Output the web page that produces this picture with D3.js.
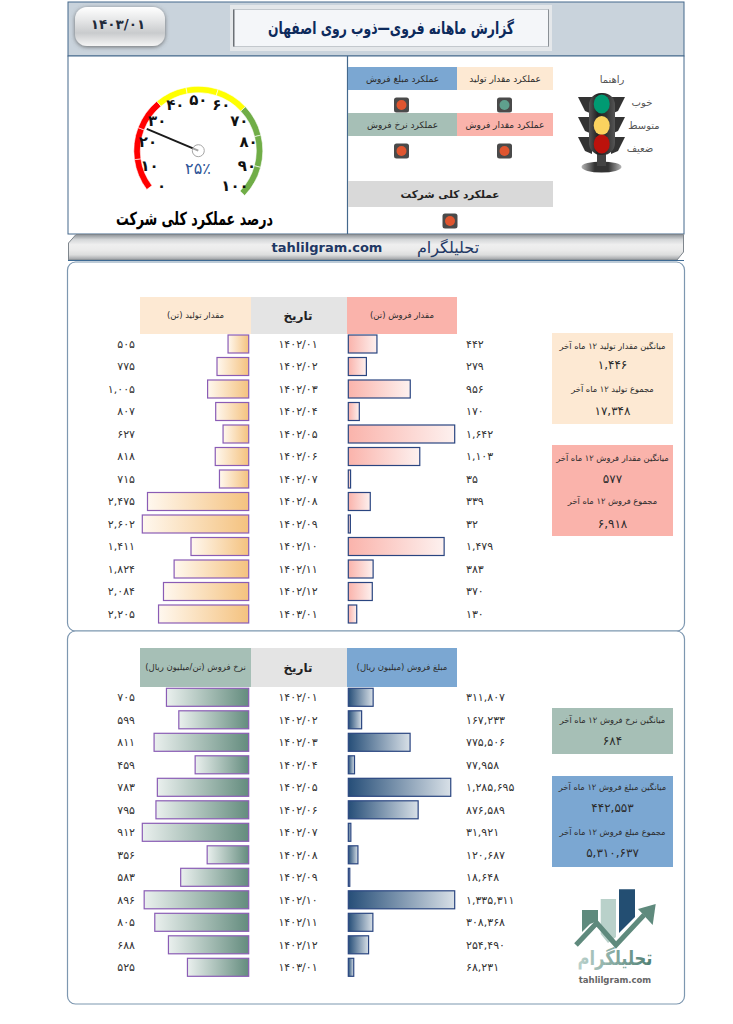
<!DOCTYPE html>
<html>
<head>
<meta charset="utf-8">
<script src="https://cdn.jsdelivr.net/npm/d3@7/dist/d3.min.js"></script>
<style>
body { margin: 0; background: #fff; }
text { font-family: "DejaVu Sans", sans-serif; }
</style>
</head>
<body>
<div id="chart-area"></div>
<script>
var dates = ["1402/01","1402/02","1402/03","1402/04","1402/05","1402/06","1402/07","1402/08","1402/09","1402/10","1402/11","1402/12","1403/01"];
var production = [505,775,1005,807,627,818,715,2475,2602,1411,1824,2084,2205];
var sales = [442,279,956,170,1642,1103,35,339,32,1479,383,370,130];
var saleRate = [705,599,811,459,783,795,912,356,583,896,805,688,525];
var saleAmount = [311807,167233,775506,77958,1285695,876589,31921,120687,18648,1335311,308368,254490,68231];
var gaugeTicks = [0,10,20,30,40,50,60,70,80,90,100];
var gaugeColors = ["#ff0000","#ff0000","#ff0000","#ffff00","#ffff00","#ffff00","#70ad47","#70ad47","#70ad47"];
var gaugeValue = 25;
var kpiBoxes = [
    {label: "عملکرد مبلغ فروش", x: 348, y: 67, w: 109, h: 23, fill: "#7ba7d2", light: "#e0552f"},
    {label: "عملکرد مقدار تولید", x: 457, y: 67, w: 96, h: 23, fill: "#fde9d3", light: "#5fa08e"},
    {label: "عملکرد  نرخ فروش", x: 348, y: 113, w: 109, h: 23, fill: "#a6bfb6", light: "#e0552f"},
    {label: "عملکرد مقدار فروش", x: 457, y: 113, w: 96, h: 23, fill: "#fab3ab", light: "#e0552f"}
];
var summaryProd = ["میانگین مقدار تولید ۱۲ ماه آخر", 1446, "مجموع تولید ۱۲ ماه آخر", 17348];
var summarySales = ["میانگین مقدار فروش ۱۲ ماه آخر", 577, "مجموع فروش ۱۲ ماه آخر", 6918];
var summaryRate = ["میانگین نرخ فروش ۱۲ ماه آخر", 684];
var summaryAmount = ["میانگین مبلغ فروش ۱۲ ماه آخر", 442553, "مجموع مبلغ فروش ۱۲ ماه آخر", 5310637];

var svg = d3.select("#chart-area").append("svg").attr("width", 733).attr("height", 1024);
var defs = svg.append("defs");

function fa(v) {
    var s = typeof v === "number" ? d3.format(",")(v) : v;
    return s.replace(/[0-9]/g, function(c) { return "۰۱۲۳۴۵۶۷۸۹"[+c]; });
}

function gradient(id, stops, vertical) {
    var g = defs.append("linearGradient").attr("id", id)
        .attr("x1", "0%").attr("y1", "0%")
        .attr("x2", vertical ? "0%" : "100%")
        .attr("y2", vertical ? "100%" : "0%");
    stops.forEach(function(s, i) {
        g.append("stop").attr("offset", (i / (stops.length - 1) * 100) + "%").attr("stop-color", s);
    });
}
gradient("gProd", ["#fff8ef", "#f4c27f"]);
gradient("gSales", ["#fab3ab", "#fdf1ef"]);
gradient("gRate", ["#eaf0ee", "#648c7e"]);
gradient("gAmount", ["#264e78", "#d8e0e7"]);
gradient("gLogo", ["#bcd2cc", "#4f7f73"]);
gradient("gBase", ["#b5b5b5", "#333", "#333", "#b5b5b5"]);
gradient("gBody", ["#555", "#222", "#333", "#555"]);
gradient("gBand", ["#8d9297", "#d5d7d9", "#efefef", "#ebebeb", "#dcdddd", "#9a9da1"], true);
gradient("gButton", ["#ffffff", "#e6e7e8", "#c9cbcd", "#f5f5f5"], true);
var shadow = defs.append("filter").attr("id", "soft").attr("x", "-20%").attr("y", "-20%").attr("width", "140%").attr("height", "140%");
shadow.append("feDropShadow").attr("dx", 0).attr("dy", 1).attr("stdDeviation", 2).attr("flood-color", "#555").attr("flood-opacity", 0.8);

function label(g, str, x, y, size, color, weight, fitWidth) {
    var t = g.append("text").text(str)
        .attr("x", x).attr("y", y)
        .attr("dy", "0.35em")
        .attr("font-size", size)
        .attr("fill", color)
        .attr("font-weight", weight || "normal")
        .attr("text-anchor", "middle");
    // the report's font is narrower than DejaVu, squeeze to the same width
    if (fitWidth) t.attr("textLength", fitWidth).attr("lengthAdjust", "spacingAndGlyphs");
    return t;
}

// top header
svg.append("rect").attr("x", 68).attr("y", 2).attr("width", 616).attr("height", 54)
    .attr("fill", "#c9d3dc").attr("stroke", "#44688c").attr("stroke-width", 1);
svg.append("rect").attr("x", 75).attr("y", 7).attr("width", 90).attr("height", 39).attr("rx", 12)
    .attr("fill", "url(#gButton)").attr("filter", "url(#soft)");
label(svg, fa("1403/01"), 118, 24, 13.5, "#1f2a3a", "bold");
svg.append("rect").attr("x", 230).attr("y", 5).attr("width", 322).attr("height", 46).attr("fill", "#e4e7ea");
svg.append("rect").attr("x", 233.5).attr("y", 9.5).attr("width", 315).attr("height", 37)
    .attr("fill", "#f4f6f9").attr("stroke", "#c3c8cd").attr("stroke-width", 1);
svg.append("line").attr("x1", 233.8).attr("x2", 233.8).attr("y1", 9.5).attr("y2", 46.5).attr("stroke", "#5c6166").attr("stroke-width", 1.3);
svg.append("line").attr("x1", 548.5).attr("x2", 548.5).attr("y1", 9.5).attr("y2", 46.5).attr("stroke", "#8a9096").attr("stroke-width", 1);
label(svg, "گزارش ماهانه فروی—ذوب روی اصفهان", 391, 28, 17, "#0d2a5c", "bold", 246);

// middle panel
svg.append("rect").attr("x", 68).attr("y", 56).attr("width", 616).attr("height", 178)
    .attr("fill", "#fff").attr("stroke", "#44688c");
svg.append("line").attr("x1", 347.5).attr("x2", 347.5).attr("y1", 56).attr("y2", 234)
    .attr("stroke", "#44688c").attr("stroke-width", 1.2);

// gauge
var cx = 198.3, cy = 150.7;
var gauge = svg.append("g").attr("transform", "translate(" + cx + "," + cy + ")");
var toRad = Math.PI / 180;
var segScale = d3.scaleLinear().domain([0, gaugeColors.length]).range([-127 * toRad, 134 * toRad]);
var arc = d3.arc().innerRadius(58).outerRadius(64.5);
gauge.selectAll("path.seg").data(gaugeColors).enter().append("path")
    .attr("class", "seg")
    .attr("d", function(d, i) { return arc({startAngle: segScale(i), endAngle: segScale(i + 1)}); })
    .attr("fill", function(d) { return d; })
    .attr("stroke", "#fff").attr("stroke-width", 0.6);
var angle = d3.scaleLinear().domain([0, 100]).range([-134 * toRad, 134 * toRad]);
gauge.selectAll("text.tick").data(gaugeTicks).enter().append("text")
    .attr("class", "tick")
    .attr("x", function(d) { return 51 * Math.sin(angle(d)); })
    .attr("y", function(d) { return -51 * Math.cos(angle(d)); })
    .attr("dy", "0.35em")
    .attr("text-anchor", "middle")
    .attr("font-size", 15)
    .attr("font-weight", "bold")
    .attr("fill", "#111")
    .text(function(d) { return fa(d); });
gauge.append("line")
    .attr("x1", 0).attr("y1", 0)
    .attr("x2", 56 * Math.sin(angle(gaugeValue)))
    .attr("y2", -56 * Math.cos(angle(gaugeValue)))
    .attr("stroke", "#1a1a1a").attr("stroke-width", 2);
gauge.append("circle").attr("r", 6).attr("fill", "#fff").attr("fill-opacity", 0.6).attr("stroke", "#a6a6a6").attr("stroke-width", 1);
label(svg, fa(gaugeValue + "") + "٪", 198, 168, 16, "#2f5597", "normal");
label(svg, "درصد عملکرد کلی شرکت", 194.5, 219, 18, "#000", "bold", 157);

// kpi boxes + lights
function lamp(x, y, color) {
    svg.append("rect").attr("x", x - 7.5).attr("y", y - 7.5).attr("width", 15).attr("height", 15).attr("rx", 2.5)
        .attr("fill", "#4a4a4a");
    svg.append("circle").attr("cx", x).attr("cy", y).attr("r", 5).attr("fill", color);
}
kpiBoxes.forEach(function(b) {
    svg.append("rect").attr("x", b.x).attr("y", b.y).attr("width", b.w).attr("height", b.h).attr("fill", b.fill);
    label(svg, b.label, b.x + b.w / 2, b.y + b.h / 2 + 0.5, 9, "#2b2b2b", "normal");
    lamp(b.x + (b.w === 109 ? 53.5 : 47.5), b.y + b.h + 15, b.light);
});
svg.append("rect").attr("x", 348).attr("y", 181).attr("width", 205).attr("height", 26).attr("fill", "#d9d9d9");
label(svg, "عملکرد کلی شرکت", 450, 194, 10.5, "#222", "bold");
lamp(450, 221, "#e0552f");

// traffic light
var tl = svg.append("g");
tl.append("ellipse").attr("cx", 601.5).attr("cy", 167).attr("rx", 20).attr("ry", 5.5).attr("fill", "url(#gBase)");
tl.append("rect").attr("x", 597).attr("y", 148).attr("width", 9).attr("height", 18).attr("fill", "#444");
[97, 117, 137].forEach(function(y) {
    tl.append("path").attr("d", "M578 " + y + " L592 " + y + " L592 " + (y + 17) + " L585 " + (y + 14) + " Z").attr("fill", "#333");
    tl.append("path").attr("d", "M625 " + y + " L611 " + y + " L611 " + (y + 17) + " L618 " + (y + 14) + " Z").attr("fill", "#333");
});
tl.append("rect").attr("x", 589).attr("y", 93).attr("width", 26).attr("height", 62).attr("rx", 12).attr("fill", "url(#gBody)");
tl.append("ellipse").attr("cx", 601.7).attr("cy", 104).attr("rx", 8).attr("ry", 9.5).attr("fill", "#009a72");
tl.append("ellipse").attr("cx", 601.7).attr("cy", 125.5).attr("rx", 8).attr("ry", 9.5).attr("fill", "#fbd35f");
tl.append("ellipse").attr("cx", 601.7).attr("cy", 144).attr("rx", 8).attr("ry", 9.5).attr("fill", "#bc120c");
label(svg, "راهنما", 612, 79, 10, "#555");
label(svg, "خوب", 642, 102, 10, "#555");
label(svg, "متوسط", 644, 125, 10, "#555");
label(svg, "ضعیف", 640, 148, 10, "#555");

// grey band under the header
svg.append("path").attr("d", "M68.5 243 L76 234.5 L683.5 234.5 L683.5 252 L677 260 L68.5 260 Z")
    .attr("fill", "url(#gBand)").attr("stroke", "#7f868d").attr("stroke-width", 1);
svg.append("line").attr("x1", 68).attr("x2", 684).attr("y1", 260.5).attr("y2", 260.5)
    .attr("stroke", "#3d6a94").attr("stroke-width", 1.2);
label(svg, "tahlilgram.com", 327, 247, 13, "#1f3864", "bold");
label(svg, "تحلیلگرام", 448, 247, 16, "#1f3864");

// the two table sections
function section(opt) {
    svg.append("rect").attr("x", 67.5).attr("y", opt.top).attr("width", 617).attr("height", opt.height).attr("rx", 8)
        .attr("fill", "#fff").attr("stroke", "#7d97b0").attr("stroke-width", 1.2);

    svg.append("rect").attr("x", 140).attr("y", opt.headY).attr("width", 111).attr("height", opt.headH).attr("fill", opt.leftFill);
    svg.append("rect").attr("x", 251).attr("y", opt.headY).attr("width", 96).attr("height", opt.headH).attr("fill", "#e4e4e4");
    svg.append("rect").attr("x", 347).attr("y", opt.headY).attr("width", 110).attr("height", opt.headH).attr("fill", opt.rightFill);
    var hy = opt.headY + opt.headH / 2;
    label(svg, opt.leftTitle, 195.5, hy, 8.5, "#2b2b2b");
    label(svg, "تاریخ", 298, hy, 12, "#222", "bold");
    label(svg, opt.rightTitle, 402, hy, 8.5, "#2b2b2b");

    var y = d3.scaleBand().domain(dates).range([opt.rowY, opt.rowY + 288]).paddingInner(0.2).paddingOuter(0);
    var xl = d3.scaleLinear().domain([0, d3.max(opt.left)]).range([248.7, 142.3]);
    var xr = d3.scaleLinear().domain([0, d3.max(opt.right)]).range([348.3, 454.7]);

    var g = svg.append("g");
    g.selectAll("rect.l").data(opt.left).enter().append("rect").attr("class", "l")
        .attr("x", function(d) { return xl(d); })
        .attr("y", function(d, i) { return y(dates[i]); })
        .attr("width", function(d) { return xl(0) - xl(d); })
        .attr("height", y.bandwidth())
        .attr("fill", "url(#" + opt.leftGrad + ")")
        .attr("stroke", "#8a5cb5").attr("stroke-width", 1.2);
    g.selectAll("rect.r").data(opt.right).enter().append("rect").attr("class", "r")
        .attr("x", xr(0))
        .attr("y", function(d, i) { return y(dates[i]); })
        .attr("width", function(d) { return xr(d) - xr(0); })
        .attr("height", y.bandwidth())
        .attr("fill", "url(#" + opt.rightGrad + ")")
        .attr("stroke", "#2a4580").attr("stroke-width", 1.2);

    var mid = y.bandwidth() / 2;
    g.selectAll("text.lv").data(opt.left).enter().append("text").attr("class", "lv")
        .attr("x", 135).attr("y", function(d, i) { return y(dates[i]) + mid; })
        .attr("dy", "0.35em").attr("text-anchor", "end")
        .attr("font-size", 11).attr("fill", "#333")
        .text(function(d) { return fa(d); });
    g.selectAll("text.dt").data(dates).enter().append("text").attr("class", "dt")
        .attr("x", 298).attr("y", function(d) { return y(d) + mid; })
        .attr("dy", "0.35em").attr("text-anchor", "middle")
        .attr("font-size", 11).attr("letter-spacing", 0.3).attr("fill", "#333")
        .text(function(d) { return fa(d); });
    g.selectAll("text.rv").data(opt.right).enter().append("text").attr("class", "rv")
        .attr("x", 466).attr("y", function(d, i) { return y(dates[i]) + mid; })
        .attr("dy", "0.35em").attr("text-anchor", "start")
        .attr("font-size", 11).attr("fill", "#333")
        .text(function(d) { return fa(d); });
}

function summaryBox(lines, top, height, fill, ys) {
    svg.append("rect").attr("x", 552).attr("y", top).attr("width", 121).attr("height", height).attr("fill", fill);
    lines.forEach(function(t, i) {
        var isNum = typeof t === "number";
        label(svg, fa(t), 612.5, ys[i], isNum ? 12 : 8.3, "#2b2b2b");
    });
}

section({
    top: 262, height: 369, headY: 297, headH: 37, rowY: 335,
    left: production, right: sales,
    leftFill: "#fde9d3", rightFill: "#fab3ab",
    leftGrad: "gProd", rightGrad: "gSales",
    leftTitle: "مقدار تولید (تن)", rightTitle: "مقدار فروش (تن)"
});
section({
    top: 631, height: 373, headY: 648, headH: 39, rowY: 688.3,
    left: saleRate, right: saleAmount,
    leftFill: "#a6bfb6", rightFill: "#7ba7d2",
    leftGrad: "gRate", rightGrad: "gAmount",
    leftTitle: "نرخ فروش (تن/میلیون ریال)", rightTitle: "مبلغ فروش (میلیون ریال)"
});

summaryBox(summaryProd, 333, 91, "#fde9d3", [346, 365, 389, 411]);
summaryBox(summarySales, 445, 91, "#fab3ab", [458, 479, 501, 524]);
summaryBox(summaryRate, 708, 46, "#a6bfb6", [720, 741]);
summaryBox(summaryAmount, 776, 91, "#7ba7d2", [787, 808, 832, 853]);

// logo
var logo = svg.append("g");
logo.append("path").attr("d", "M582 910 H598 V921 L590 924 L582 932 Z").attr("fill", "#5f8a7d");
logo.append("path").attr("d", "M600.7 899 H616 V937 L608 943 L600.7 934 Z").attr("fill", "#b9d1ca");
logo.append("path").attr("d", "M619 889.3 H635 V917 L619 933 Z").attr("fill", "#234e72");
logo.append("path").attr("d", "M576 945 L596.7 923 L616 945 L644 915")
    .attr("fill", "none").attr("stroke", "#5f8a7d").attr("stroke-width", 5);
logo.append("path").attr("d", "M655.7 904 L652.7 925 L638 909 Z").attr("fill", "#5f8a7d");
label(svg, "تحلیلگرام", 615, 958, 20, "url(#gLogo)", "bold", 75);
label(svg, "tahlilgram.com", 615, 980, 8.5, "#666", "bold");
</script>
</body>
</html>
